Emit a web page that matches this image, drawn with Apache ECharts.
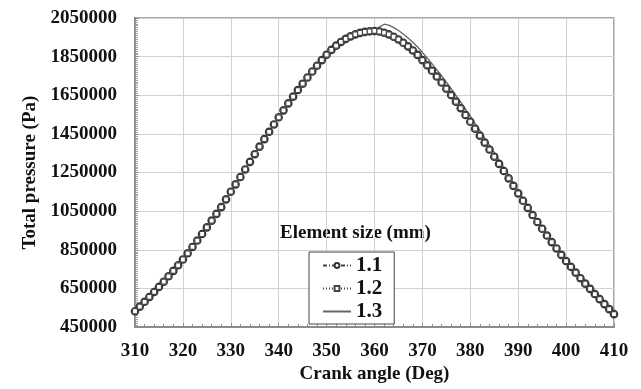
<!DOCTYPE html>
<html>
<head>
<meta charset="utf-8">
<script src="https://cdn.jsdelivr.net/npm/echarts@6/dist/echarts.min.js"></script>
<style>html,body{margin:0;padding:0;background:#fff;}#c{width:641px;height:389px;}</style>
</head>
<body>
<div id="c"></div>
<script>
var crankAngle = [310,311,312,313,314,315,316,317,318,319,320,321,322,323,324,325,326,327,328,329,330,331,332,333,334,335,336,337,338,339,340,341,342,343,344,345,346,347,348,349,350,351,352,353,354,355,356,357,358,359,360,361,362,363,364,365,366,367,368,369,370,371,372,373,374,375,376,377,378,379,380,381,382,383,384,385,386,387,388,389,390,391,392,393,394,395,396,397,398,399,400,401,402,403,404,405,406,407,408,409,410];

var size11 = [532000,556000,581000,606000,632000,658000,685000,713000,741000,770000,800000,832000,865000,898000,932000,966000,1001000,1036000,1071000,1111000,1151000,1189000,1227000,1266000,1305000,1345000,1384000,1423000,1461000,1499000,1536000,1572000,1608000,1643000,1677000,1710000,1742000,1773000,1803000,1832000,1860000,1885000,1907000,1926000,1942000,1955000,1965000,1973000,1978000,1981000,1983000,1980000,1974000,1965000,1953000,1939000,1922000,1903000,1882000,1859000,1832000,1805000,1777000,1747000,1716000,1684000,1651000,1617000,1583000,1548000,1513000,1477000,1441000,1405000,1369000,1332000,1295000,1258000,1220000,1181000,1142000,1104000,1067000,1030000,994000,959000,924000,890000,857000,824000,792000,762000,732000,703000,675000,648000,621000,595000,569000,543000,517000];

var size12 = [532000,556000,581000,606000,632000,658000,685000,713000,741000,770000,800000,832000,865000,898000,932000,966000,1001000,1036000,1071000,1111000,1151000,1189000,1227000,1266000,1305000,1345000,1384000,1423000,1461000,1499000,1536000,1572000,1608000,1643000,1677000,1710000,1742000,1773000,1803000,1832000,1860000,1885000,1907000,1926000,1942000,1955000,1965000,1973000,1978000,1981000,1983000,1980000,1974000,1965000,1953000,1939000,1922000,1903000,1882000,1859000,1832000,1805000,1777000,1747000,1716000,1684000,1651000,1617000,1583000,1548000,1513000,1477000,1441000,1405000,1369000,1332000,1295000,1258000,1220000,1181000,1142000,1104000,1067000,1030000,994000,959000,924000,890000,857000,824000,792000,762000,732000,703000,675000,648000,621000,595000,569000,543000,517000];

var size13 = [532000,556000,581000,606000,632000,658000,685000,713000,741000,770000,800000,832000,865000,898000,932000,966000,1001000,1036000,1071000,1111000,1151000,1189000,1227000,1266000,1305000,1345000,1384000,1423000,1461000,1499000,1536000,1572000,1608000,1643000,1677000,1710000,1742000,1773000,1803000,1832000,1860000,1885000,1907000,1926000,1942000,1955000,1965000,1973000,1978000,1981000,1983000,2003000,2018000,2013000,2000000,1985000,1967000,1946000,1924000,1900000,1872000,1843000,1814000,1783000,1751000,1718000,1684000,1649000,1614000,1578000,1542000,1504000,1467000,1429000,1392000,1354000,1315000,1277000,1237000,1197000,1157000,1117000,1079000,1041000,1003000,967000,931000,896000,862000,829000,796000,765000,735000,705000,677000,650000,622000,596000,570000,543000,517000];

var seriesNames = ['1.1', '1.2', '1.3'];
var legendTitle = 'Element size (mm)';
var xTitle = 'Crank angle (Deg)';
var yTitle = 'Total pressure (Pa)';

function pairs(ys) { return crankAngle.map(function (x, i) { return [x, ys[i]]; }); }

var serif = '"Liberation Serif", "DejaVu Serif", serif';
var chart = echarts.init(document.getElementById('c'), null, {renderer: 'canvas'});
chart.setOption({
  animation: false,
  backgroundColor: '#ffffff',
  grid: {left: 135, right: 27, top: 18, bottom: 59, show: true, borderColor: '#8c8c8c', borderWidth: 1.5, backgroundColor: 'transparent'},
  xAxis: {
    type: 'value', min: 310, max: 410, interval: 10,
    name: xTitle, nameLocation: 'middle', nameGap: 37,
    nameTextStyle: {fontFamily: serif, fontWeight: 'bold', fontSize: 19, color: '#111'},
    axisLine: {show: true, lineStyle: {color: '#8c8c8c', width: 2}},
    axisTick: {show: true, inside: true, length: 4, lineStyle: {color: '#8c8c8c'}},
    minorTick: {show: true, splitNumber: 5, length: 3, lineStyle: {color: '#8c8c8c'}},
    axisLabel: {fontFamily: serif, fontWeight: 'bold', fontSize: 19, color: '#111', margin: 14},
    splitLine: {show: true, lineStyle: {color: '#d2d2d2', width: 1}}
  },
  yAxis: {
    type: 'value', min: 450000, max: 2050000, interval: 200000,
    name: yTitle, nameLocation: 'middle', nameGap: 94, nameRotate: 90,
    nameTextStyle: {fontFamily: serif, fontWeight: 'bold', fontSize: 19, color: '#111'},
    axisLine: {show: true, lineStyle: {color: '#8c8c8c', width: 2}},
    axisTick: {show: true, inside: true, length: 4, lineStyle: {color: '#8c8c8c'}},
    minorTick: {show: true, splitNumber: 20, length: 3, lineStyle: {color: '#a0a0a0'}},
    axisLabel: {fontFamily: serif, fontWeight: 'bold', fontSize: 19, color: '#111', margin: 18,
      formatter: function (v) { return String(v); }},
    splitLine: {show: true, lineStyle: {color: '#d2d2d2', width: 1}}
  },
  legend: {
    orient: 'vertical', left: 309, top: 252,
    padding: [2, 12, 1, 13], itemGap: 0, itemWidth: 28, itemHeight: 6,
    borderColor: '#444', borderWidth: 1, backgroundColor: '#fff',
    textStyle: {fontFamily: serif, fontWeight: 'bold', fontSize: 21, color: '#111', lineHeight: 23},
    data: [{name: seriesNames[0]}, {name: seriesNames[1]}, {name: seriesNames[2], itemStyle: {opacity: 0}}]
  },
  graphic: [{
    type: 'text', left: 280, top: 224,
    style: {text: legendTitle, font: 'bold 19px "Liberation Serif", serif', fill: '#111'}
  }],
  series: [
    {name: seriesNames[0], type: 'line', data: pairs(size11), symbol: 'circle', symbolSize: 7, showSymbol: true,
     lineStyle: {color: '#444', width: 1, type: [4, 2, 1, 2]}, itemStyle: {color: '#fff', borderColor: '#333', borderWidth: 1.6}, z: 3},
    {name: seriesNames[1], type: 'line', data: pairs(size12), symbol: 'rect', symbolSize: 5, showSymbol: true,
     lineStyle: {color: '#444', width: 1, type: [1, 2]}, itemStyle: {color: '#fff', borderColor: '#444', borderWidth: 1.2}, z: 4},
    {name: seriesNames[2], type: 'line', data: pairs(size13), symbol: 'none', showSymbol: false,
     lineStyle: {color: '#666', width: 1.3}, itemStyle: {color: '#444'}, z: 2}
  ]
});
</script>
</body>
</html>
